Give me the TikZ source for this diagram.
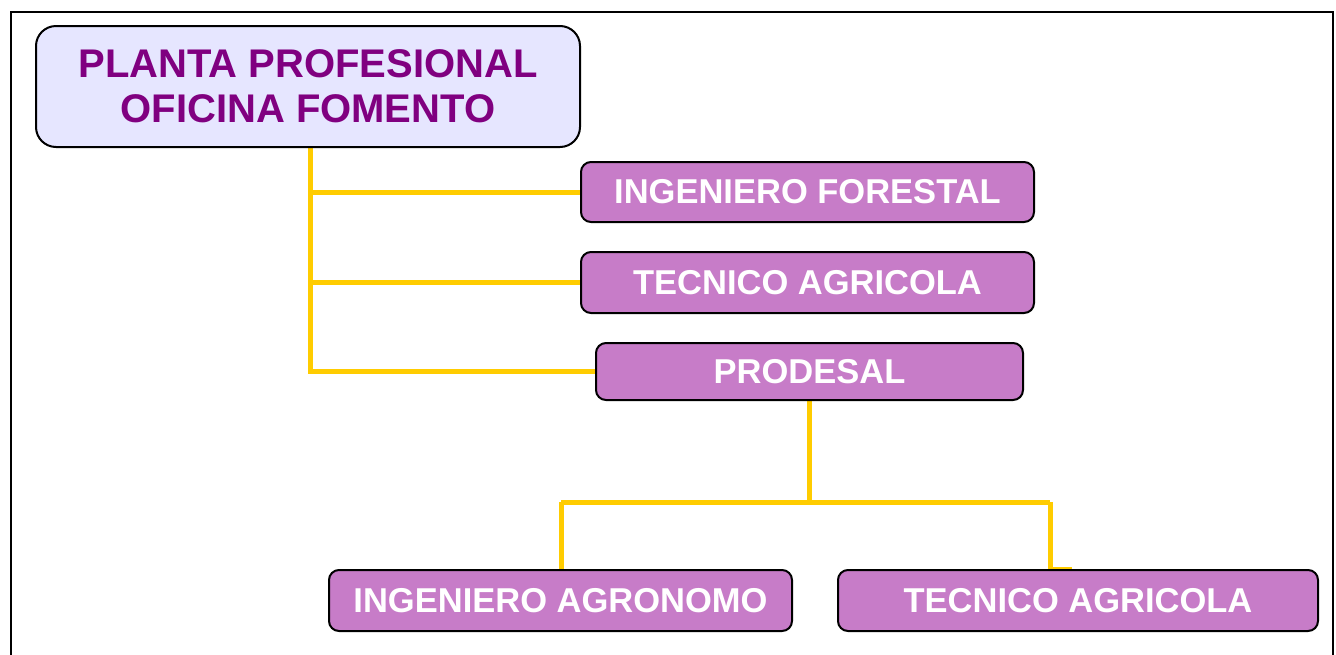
\documentclass[tikz,border=0pt]{standalone}
\usepackage{fontspec}
\setmainfont{Liberation Sans}
\usetikzlibrary{backgrounds}
\definecolor{topfill}{HTML}{E6E6FF}
\definecolor{toptext}{HTML}{800080}
\definecolor{boxfill}{HTML}{C77CC8}
\definecolor{linkcol}{HTML}{FFCC00}
\tikzset{
  topbox/.style={draw=black, line width=2pt, fill=topfill, rounded corners=20pt,
    minimum width=544pt, minimum height=121pt, align=center, inner sep=0pt,
    text=toptext, font=\fontsize{40}{45}\selectfont\bfseries},
  rolebox/.style={draw=black, line width=2pt, fill=boxfill, rounded corners=10pt,
    minimum height=60pt, inner sep=0pt, text=white,
    font=\fontsize{34.5}{40}\selectfont\bfseries},
  link/.style={draw=linkcol, line width=5pt},
}
\begin{document}
\begin{tikzpicture}[x=1pt,y=-1pt]
\useasboundingbox (0,0) rectangle (1336,654);
\node[topbox] (top) at (308,86.5) {PLANTA PROFESIONAL\\OFICINA FOMENTO};
\node[rolebox, minimum width=453pt] (if) at (807.5,192) {INGENIERO FORESTAL};
\node[rolebox, minimum width=453pt, minimum height=61pt] (ta) at (807.5,282.5) {TECNICO AGRICOLA};
\node[rolebox, minimum width=427pt, minimum height=57pt] (pr) at (809.5,371.5) {PRODESAL};
\node[rolebox, minimum width=463pt, minimum height=61pt] (ia) at (560.5,600.5) {INGENIERO AGRONOMO};
\node[rolebox, minimum width=480pt, minimum height=61pt] (tb) at (1078,600.5) {TECNICO AGRICOLA};
\coordinate (trunk) at (310,0);
\coordinate (jl) at (561,502);
\coordinate (jr) at (1050,502);
\begin{pgfonlayer}{background}
\fill[white] (0,0) rectangle (1336,654);
\draw[black, line width=2.5pt] (11,660) -- (11,12) -- (1333,12) -- (1333,660);
\draw[link] (top.south -| trunk) |- (pr.west);
\draw[link] (trunk |- if.west) -- (if.west);
\draw[link] (trunk |- ta.west) -- (ta.west);
\draw[link] (pr.south) -- (pr.south |- jl);
\draw[link] (jl) -- (jr);
\draw[link] (jl) -- (jl |- ia.north);
\draw[link] (jr) -- (jr |- tb.north) -- ++(22,0);
\end{pgfonlayer}
\end{tikzpicture}
\end{document}
